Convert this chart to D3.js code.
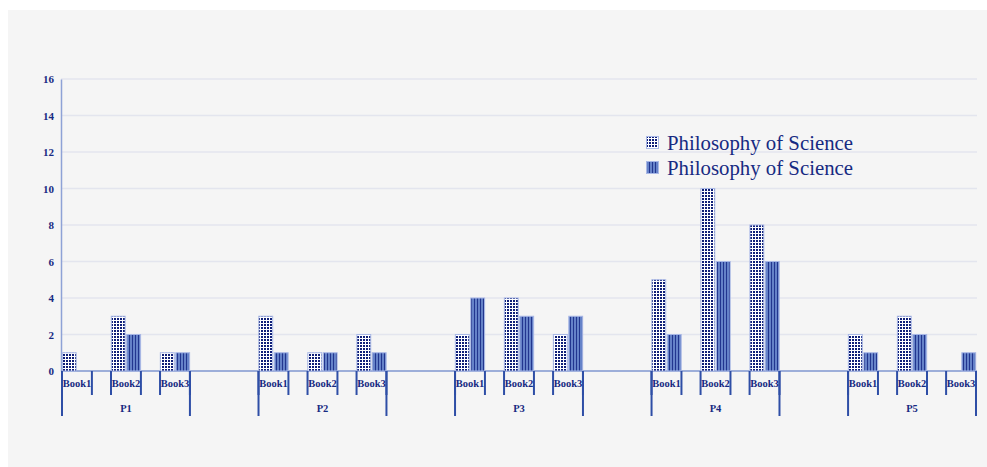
<!DOCTYPE html>
<html>
<head>
<meta charset="utf-8">
<script src="https://cdn.jsdelivr.net/npm/d3@7/dist/d3.min.js"></script>
<style>
  html, body { margin: 0; padding: 0; background: #ffffff; }
  svg { display: block; }
  text { font-family: "Liberation Serif", "Times New Roman", serif; fill: #172a82; }
</style>
</head>
<body>
<svg id="chart" width="987" height="467"></svg>
<script>
// Groups along the x axis and the books inside each group
const groups = ["P1", "P2", "P3", "P4", "P5"];
const books = ["Book1", "Book2", "Book3"];
const seriesNames = ["Philosophy of Science", "Philosophy of Science"];

// Values per group, ordered Book1, Book2, Book3
const seriesA = [
  [1, 3, 1],
  [3, 1, 2],
  [2, 4, 2],
  [5, 10, 8],
  [2, 3, 0]
];
const seriesB = [
  [0, 2, 1],
  [1, 1, 1],
  [4, 3, 3],
  [2, 6, 6],
  [1, 2, 1]
];
const yTicks = [0, 2, 4, 6, 8, 10, 12, 14, 16];

const navy = "#172a82";
const svg = d3.select("#chart");

// panel background
svg.append("rect").attr("x", 8).attr("y", 10).attr("width", 979).attr("height", 457).attr("fill", "#f5f5f5");

// hatch fills
const defs = svg.append("defs");
const dots = defs.append("pattern").attr("id", "pat-dots").attr("patternUnits", "userSpaceOnUse")
  .attr("width", 3).attr("height", 3);
dots.append("rect").attr("width", 3).attr("height", 3).attr("fill", "#ffffff");
dots.append("rect").attr("width", 2).attr("height", 2).attr("fill", "#0f1f78");
const stripes = defs.append("pattern").attr("id", "pat-stripes").attr("patternUnits", "userSpaceOnUse")
  .attr("width", 3).attr("height", 3);
stripes.append("rect").attr("width", 3).attr("height", 3).attr("fill", "#6582c8");
stripes.append("rect").attr("width", 1).attr("height", 3).attr("fill", "#22368f");
const fills = ["url(#pat-dots)", "url(#pat-stripes)"];

const plotLeft = 61, plotRight = 977, plotTop = 79, plotBase = 371;

const y = d3.scaleLinear().domain([0, 16]).range([plotBase, plotTop]);
const x0 = d3.scaleBand().domain(groups).range([plotLeft + 1, plotRight - 1]).paddingInner(0.349).paddingOuter(0);
const x1 = d3.scaleBand().domain(books).range([0, x0.bandwidth()]).paddingInner(0.39).paddingOuter(0);
const x2 = d3.scaleBand().domain([0, 1]).range([0, x1.bandwidth()]).paddingInner(0.1).paddingOuter(0.02);

// gridlines
svg.append("g").selectAll("line").data(yTicks.filter(d => d > 0)).join("line")
  .attr("x1", plotLeft).attr("x2", plotRight)
  .attr("y1", d => y(d)).attr("y2", d => y(d))
  .attr("stroke", "#e3e5ee").attr("stroke-width", 1.5);

// y axis
const yAxis = svg.append("g").attr("transform", `translate(${plotLeft},0)`)
  .call(d3.axisLeft(y).tickValues(yTicks).tickSize(0).tickPadding(7));
yAxis.select(".domain").attr("stroke", "#8ea2d6").attr("stroke-width", 1.5);
yAxis.selectAll("text").attr("font-family", "Liberation Serif, serif").attr("font-weight", "bold")
  .attr("font-size", 11).attr("fill", navy);

// x baseline
svg.append("line").attr("x1", plotLeft).attr("x2", plotRight).attr("y1", plotBase).attr("y2", plotBase)
  .attr("stroke", "#7f96cf").attr("stroke-width", 1.5);

// bars
const cells = [];
groups.forEach((g, gi) => books.forEach((b, bi) => {
  cells.push({ g, b, s: 0, v: seriesA[gi][bi] });
  cells.push({ g, b, s: 1, v: seriesB[gi][bi] });
}));
svg.append("g").selectAll("rect").data(cells.filter(d => d.v > 0)).join("rect")
  .attr("x", d => x0(d.g) + x1(d.b) + x2(d.s))
  .attr("width", x2.bandwidth())
  .attr("y", d => y(d.v))
  .attr("height", d => y(0) - y(d.v))
  .attr("fill", d => fills[d.s])
  .attr("stroke", "#a9b8e6").attr("stroke-width", 1);

// multi-level category axis
const axisG = svg.append("g");
groups.forEach(g => {
  const gx = x0(g);
  books.forEach(b => {
    const bx = gx + x1(b);
    [bx, bx + x1.bandwidth()].forEach(xx => {
      axisG.append("line").attr("x1", xx).attr("x2", xx).attr("y1", plotBase).attr("y2", plotBase + 24)
        .attr("stroke", "#2e4ea6").attr("stroke-width", 2);
    });
    axisG.append("text").attr("x", bx + x1.bandwidth() / 2).attr("y", plotBase + 15.5)
      .attr("text-anchor", "middle").attr("font-size", 10.5).attr("font-weight", "bold").text(b);
  });
  [gx, gx + x0.bandwidth()].forEach(xx => {
    axisG.append("line").attr("x1", xx).attr("x2", xx).attr("y1", plotBase).attr("y2", plotBase + 45)
      .attr("stroke", "#2e4ea6").attr("stroke-width", 2);
  });
  axisG.append("text").attr("x", gx + x0.bandwidth() / 2).attr("y", plotBase + 41)
    .attr("text-anchor", "middle").attr("font-size", 10.5).attr("font-weight", "bold").text(g);
});

// legend
const legend = svg.append("g").attr("transform", "translate(646,136)");
seriesNames.forEach((name, i) => {
  const row = legend.append("g").attr("transform", `translate(0,${i * 25})`);
  row.append("rect").attr("x", 0.5).attr("y", 0.5).attr("width", 12).attr("height", 12)
    .attr("fill", fills[i]).attr("stroke", "#a9b8e6").attr("stroke-width", 1);
  row.append("text").attr("x", 21).attr("y", 13.5).attr("font-size", 20.8).text(name);
});
</script>
</body>
</html>
